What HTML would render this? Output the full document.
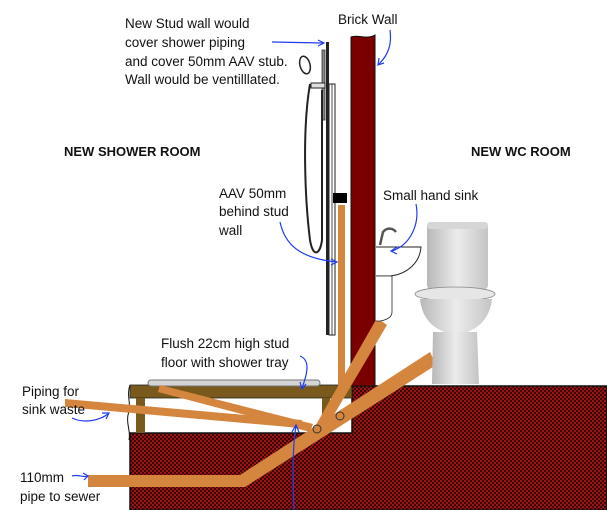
<!DOCTYPE html>
<html><head><meta charset="utf-8"><style>
html,body{margin:0;padding:0;background:#fff;width:607px;height:510px;overflow:hidden}
svg{display:block}
text{font-family:"Liberation Sans","DejaVu Sans",sans-serif;font-size:13.5px;fill:#111}
.b{font-weight:bold;font-size:13px}
</style></head><body>
<svg width="607" height="510" viewBox="0 0 607 510">
<defs>
<pattern id="chk" width="4" height="4" patternUnits="userSpaceOnUse">
<rect width="4" height="4" fill="#3a0606"/>
<rect width="2" height="2" fill="#9a1414"/>
<rect x="2" y="2" width="2" height="2" fill="#9a1414"/>
</pattern>
<linearGradient id="tg" x1="0" x2="1"><stop offset="0" stop-color="#b8b8b8"/><stop offset=".5" stop-color="#ececec"/><stop offset="1" stop-color="#c4c4c4"/></linearGradient>
</defs>

<path d="M130 433 L352 433 L352 386 L607 386 L607 510 L130 510 Z" fill="url(#chk)" stroke="#111" stroke-width="1.5"/>
<rect x="130" y="385" width="222" height="13" fill="#7a5a1c" stroke="#222" stroke-width="0.8"/>
<rect x="136" y="398" width="9" height="35" fill="#7a5a1c"/>
<rect x="322" y="398" width="8" height="35" fill="#7a5a1c"/>
<path d="M130 385 C126 395 132 405 128 415 C126 425 131 430 129 440" fill="none" stroke="#111" stroke-width="1"/>
<rect x="148" y="380" width="172" height="6" rx="3" fill="#d4d4d4" stroke="#777" stroke-width="1"/>

<path d="M351 37 C358 34 366 40 375 35 L375 386 L351 386 Z" fill="#7a0000" stroke="#111" stroke-width="1"/>
<rect x="326" y="42" width="3" height="293" fill="#222"/>
<rect x="329" y="84" width="6" height="251" fill="#fff" stroke="#222" stroke-width="1"/>
<line x1="332" y1="84" x2="332" y2="335" stroke="#222" stroke-width="0.8"/>

<rect x="322" y="50" width="3" height="70" fill="#888" stroke="#333" stroke-width="0.8"/>
<ellipse cx="305" cy="65" rx="5" ry="9" fill="#fff" stroke="#222" stroke-width="1.5" transform="rotate(-15 305 65)"/>
<rect x="311" y="83" width="14" height="5" fill="#ddd" stroke="#222" stroke-width="1"/>
<path d="M310 84 C302 130 305 200 310 240 C313 258 320 255 322 240 L322 90" fill="none" stroke="#222" stroke-width="2"/>

<rect x="338" y="205" width="7" height="190" fill="#d4863e"/>
<rect x="333" y="193" width="14" height="10" fill="#000"/>

<g fill="#d4863e">
<polygon points="65,399 65,407 300,428 302,420"/>
<polygon points="160,385 158,392 310,432 313,424"/>
<polygon points="88,475 240,475 430,352 436,365 245,487 88,487"/>
<polygon points="377,318 387,325 322,435 313,430"/>
</g>
<circle cx="317" cy="429" r="4" fill="none" stroke="#333" stroke-width="1"/>
<circle cx="340" cy="416" r="4" fill="none" stroke="#333" stroke-width="1"/>

<path d="M376 247 L421 247 C420 262 408 274 390 276 L376 276" fill="#fff" stroke="#222" stroke-width="1"/>
<path d="M376 276 L392 276 L392 312 C392 318 386 320 380 321 L376 321" fill="#fff" stroke="#222" stroke-width="0.8"/>
<path d="M380 245 L383 232 C387 227 393 228 396 232" fill="none" stroke="#555" stroke-width="2.5"/>

<rect x="427" y="222" width="61" height="68" rx="5" fill="url(#tg)"/>
<rect x="427" y="222" width="61" height="7" rx="3" fill="#d6d6d6"/>
<ellipse cx="455" cy="294" rx="40" ry="7" fill="#e6e6e6" stroke="#888" stroke-width="0.8"/>
<path d="M420 299 L492 299 C490 320 475 333 456 334 C436 333 422 320 420 299 Z" fill="url(#tg)"/>
<path d="M433 332 L477 332 L479 384 L432 384 Z" fill="url(#tg)"/>

<g fill="none" stroke="#1f3cf0" stroke-width="1.2">
<path d="M272 42 L323 43"/><path d="M318 40 L324 43 L318 46"/>
<path d="M390 30 C392 45 388 55 379 64"/><path d="M379 58 L378 65 L384 63"/>
<path d="M280 222 C285 245 300 258 336 262"/><path d="M331 259 L337 262 L331 265"/>
<path d="M416 204 C420 225 410 245 392 251"/><path d="M397 247 L391 251 L397 254"/>
<path d="M300 356 C310 360 308 372 302 388"/><path d="M300 382 L302 389 L306 384"/>
<path d="M72 418 C85 424 100 420 108 414"/><path d="M102 413 L109 413 L106 419"/>
<path d="M72 476 C78 474 84 478 88 476"/><path d="M83 473 L88 476 L84 480"/>
<path d="M294 510 C293 480 292 450 296 426"/><path d="M292 432 L296 425 L299 432"/>
</g>

<text x="125" y="28">New Stud wall would</text>
<text x="125" y="47">cover shower piping</text>
<text x="125" y="66">and cover 50mm AAV stub.</text>
<text x="125" y="84">Wall would be ventilllated.</text>
<text x="338" y="24">Brick Wall</text>
<text class="b" x="64" y="156">NEW SHOWER ROOM</text>
<text class="b" x="471" y="156">NEW WC ROOM</text>
<text x="219" y="198">AAV 50mm</text>
<text x="219" y="216">behind stud</text>
<text x="219" y="235">wall</text>
<text x="383" y="200">Small hand sink</text>
<text x="161" y="348">Flush 22cm high stud</text>
<text x="161" y="367">floor with shower tray</text>
<text x="22" y="396">Piping for</text>
<text x="22" y="414">sink waste</text>
<text x="20" y="482">110mm</text>
<text x="20" y="501">pipe to sewer</text>
</svg>
</body></html>
